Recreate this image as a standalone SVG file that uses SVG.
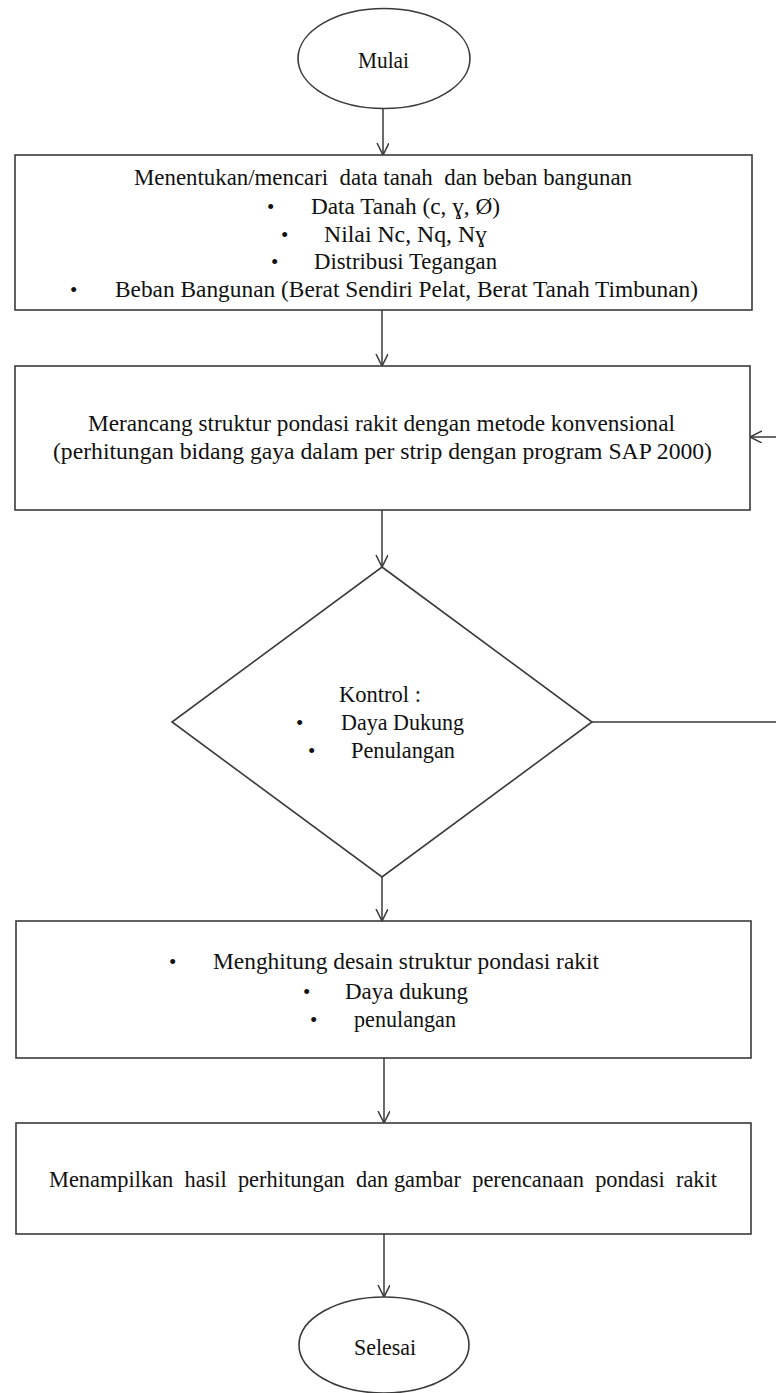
<svg xmlns="http://www.w3.org/2000/svg" width="776" height="1393" viewBox="0 0 776 1393">
  <style>
    .shape { fill: #ffffff; stroke: #3a3a3a; stroke-width: 1.6; }
    .conn { fill: none; stroke: #3a3a3a; stroke-width: 1.5; }
    text { font-family: "Liberation Serif", "Times New Roman", serif; font-size: 24px; fill: #111111; }
    .c { text-anchor: middle; }
    .b { font-size: 21px; }
  </style>
  <defs>
    <marker id="arrow" markerUnits="userSpaceOnUse" markerWidth="14" markerHeight="14" refX="12" refY="6" orient="auto">
      <path d="M0,0 L12,6 L0,12" fill="none" stroke="#3a3a3a" stroke-width="1.5"/>
    </marker>
  </defs>
  <rect width="776" height="1393" fill="#ffffff"/>

  <g id="connectors">
    <line class="conn" x1="383" y1="109" x2="383" y2="155" marker-end="url(#arrow)"/>
    <line class="conn" x1="382" y1="310" x2="382" y2="366" marker-end="url(#arrow)"/>
    <line class="conn" x1="382" y1="510" x2="382" y2="567" marker-end="url(#arrow)"/>
    <line class="conn" x1="382" y1="877" x2="382" y2="921" marker-end="url(#arrow)"/>
    <line class="conn" x1="384" y1="1058" x2="384" y2="1123" marker-end="url(#arrow)"/>
    <line class="conn" x1="384" y1="1234" x2="384" y2="1297" marker-end="url(#arrow)"/>
    <path class="conn" d="M592,722 H778 V437 H750" marker-end="url(#arrow)"/>
  </g>

  <g id="start">
    <ellipse class="shape" cx="384" cy="58.5" rx="86" ry="50"/>
    <text x="358" y="68" textLength="51" lengthAdjust="spacingAndGlyphs">Mulai</text>
  </g>

  <g id="input-data">
    <rect class="shape" x="15" y="155" width="737" height="155"/>
    <text class="c" x="383" y="185" textLength="498" lengthAdjust="spacingAndGlyphs" xml:space="preserve">Menentukan/mencari  data tanah  dan beban bangunan</text>
    <text class="b" x="267" y="214">•</text>
    <text x="311" y="214" textLength="189" lengthAdjust="spacingAndGlyphs">Data Tanah (c, ɣ, Ø)</text>
    <text class="b" x="281" y="242">•</text>
    <text x="324" y="242" textLength="163" lengthAdjust="spacingAndGlyphs">Nilai Nc, Nq, Nɣ</text>
    <text class="b" x="271" y="269">•</text>
    <text x="314" y="269" textLength="183" lengthAdjust="spacingAndGlyphs">Distribusi Tegangan</text>
    <text class="b" x="70" y="297">•</text>
    <text x="115" y="297" textLength="583" lengthAdjust="spacingAndGlyphs">Beban Bangunan (Berat Sendiri Pelat, Berat Tanah Timbunan)</text>
  </g>

  <g id="design">
    <rect class="shape" x="15" y="366" width="735" height="144"/>
    <text x="88" y="431" textLength="587" lengthAdjust="spacingAndGlyphs">Merancang struktur pondasi rakit dengan metode konvensional</text>
    <text x="53" y="459" textLength="659" lengthAdjust="spacingAndGlyphs">(perhitungan bidang gaya dalam per strip dengan program SAP 2000)</text>
  </g>

  <g id="control">
    <polygon class="shape" points="382,567 592,722 382,877 172,722"/>
    <text x="339" y="702" textLength="82" lengthAdjust="spacingAndGlyphs">Kontrol :</text>
    <text class="b" x="296" y="730">•</text>
    <text x="341" y="730" textLength="123" lengthAdjust="spacingAndGlyphs">Daya Dukung</text>
    <text class="b" x="308" y="758">•</text>
    <text x="351" y="758" textLength="104" lengthAdjust="spacingAndGlyphs">Penulangan</text>
  </g>

  <g id="calculate">
    <rect class="shape" x="16" y="921" width="735" height="137"/>
    <text class="b" x="169" y="969">•</text>
    <text x="213" y="969" textLength="386" lengthAdjust="spacingAndGlyphs">Menghitung desain struktur pondasi rakit</text>
    <text class="b" x="303" y="999">•</text>
    <text x="345" y="999" textLength="123" lengthAdjust="spacingAndGlyphs">Daya dukung</text>
    <text class="b" x="310" y="1027">•</text>
    <text x="354" y="1027" textLength="102" lengthAdjust="spacingAndGlyphs">penulangan</text>
  </g>

  <g id="output">
    <rect class="shape" x="16" y="1123" width="735" height="111"/>
    <text x="49" y="1187" textLength="668" lengthAdjust="spacingAndGlyphs" xml:space="preserve">Menampilkan  hasil  perhitungan  dan gambar  perencanaan  pondasi  rakit</text>
  </g>

  <g id="end">
    <ellipse class="shape" cx="384" cy="1345" rx="85" ry="48"/>
    <text x="354" y="1355" textLength="62" lengthAdjust="spacingAndGlyphs">Selesai</text>
  </g>
</svg>
